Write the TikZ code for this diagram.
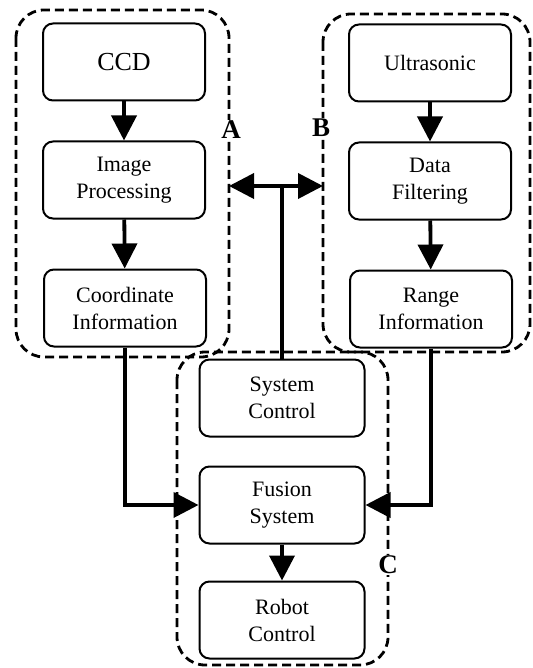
\documentclass[tikz,border=0pt]{standalone}
\usepackage{fontspec}
\setmainfont{Liberation Serif}
\usetikzlibrary{arrows.meta}
\begin{document}
\begin{tikzpicture}[x=1pt,y=-1pt,
  blk/.style={draw, line width=2pt, rounded corners=10pt, minimum width=162pt, minimum height=77pt, align=center, font=\fontsize{22}{27}\selectfont, inner sep=2pt},
  grp/.style={draw, line width=2.8pt, dash pattern=on 9pt off 5pt, rounded corners=28pt},
  arr/.style={line width=3.8pt, -{Triangle[length=25pt,width=25pt]}},
  dbl/.style={line width=3.8pt, {Triangle[length=25pt,width=25pt]}-{Triangle[length=25pt,width=25pt]}},
  lbl/.style={font=\bfseries\fontsize{27}{27}\selectfont, fill=white, inner sep=1pt}]
\useasboundingbox (0,0) rectangle (532,668);
% groups
\draw[grp] (16,10) rectangle (229,357);
\draw[grp] (323,14) rectangle (530,352);
\draw[grp] (177,352) rectangle (388,665);
% blocks
\node[blk, font=\fontsize{26}{27}\selectfont] (ccd) at (124,62) {CCD};
\node[blk] (img) at (124,180) {Image\\Processing};
\node[blk] (crd) at (125,308) {Coordinate\\Information};
\node[blk] (ult) at (430,63) {Ultrasonic};
\node[blk] (dat) at (430,181) {Data\\Filtering};
\node[blk] (rng) at (431,309) {Range\\Information};
\node[blk, minimum width=165pt] (sys) at (282,398) {System\\Control};
\node[blk, minimum width=165pt] (fus) at (282,505) {Fusion\\System};
\node[blk, minimum width=165pt] (rob) at (282,620) {Robot\\Control};
% labels
\node[lbl] (la) at (231,130) {A};
\node[lbl] (lb) at (321,128) {B};
\node[lbl] (lc) at (388,565) {C};
% connectors
\draw[arr] (ccd) -- (img);
\draw[arr] (img) -- (crd);
\draw[arr] (ult) -- (dat);
\draw[arr] (dat) -- (rng);
\draw[arr] (fus) -- (rob);
\draw[arr] (crd.south) |- (fus.west);
\draw[arr] (rng.south) |- (fus.east);
\coordinate (j) at (282,186);
\coordinate (ea) at (229,186);
\coordinate (eb) at (323,186);
\draw[line width=3.8pt] (sys.north) -- (j);
\draw[dbl] (ea) -- (eb);
\end{tikzpicture}
\end{document}
